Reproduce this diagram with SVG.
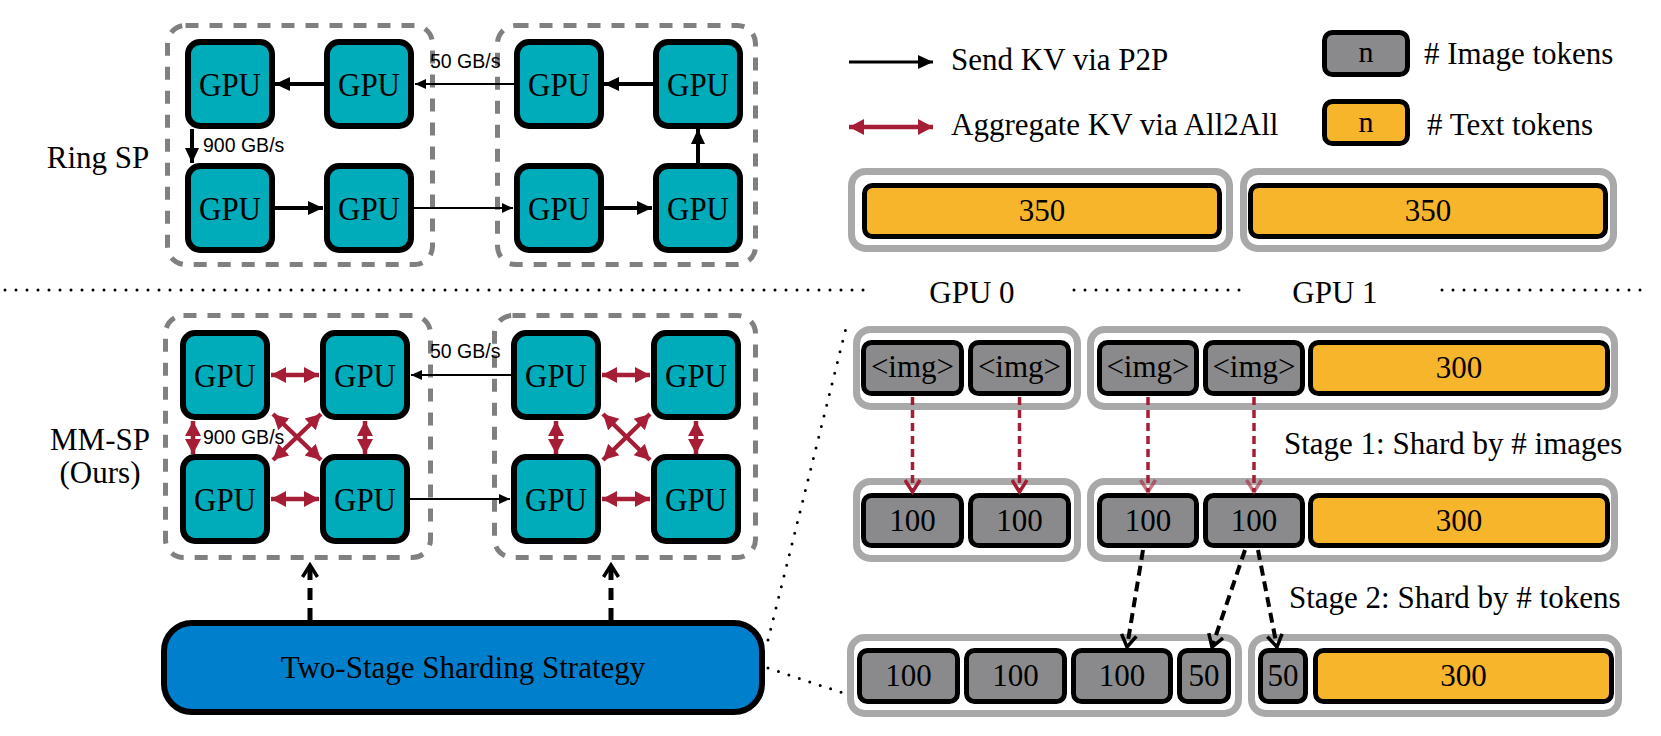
<svg xmlns="http://www.w3.org/2000/svg" width="1661" height="736" viewBox="0 0 1661 736">
<style>
.t{font-family:"Liberation Serif","Times New Roman",serif;font-size:31px;fill:#000}
.tm{text-anchor:middle}
.g{font-family:"Liberation Serif","Times New Roman",serif;font-size:34px;fill:#000;text-anchor:middle}
.s{font-family:"Liberation Sans",Arial,sans-serif;font-size:19.5px;fill:#000}
.gpu{fill:#00ACBA;stroke:#000;stroke-width:6}
.clu{fill:none;stroke:#808080;stroke-width:5;stroke-dasharray:13 11}
.con{fill:#fff;stroke:#A9A9A9;stroke-width:7}
.img{fill:#8A8A8C;stroke:#000;stroke-width:5}
.txt{fill:#F7B52C;stroke:#000;stroke-width:5}
.bk{stroke:#000;stroke-width:4;fill:none}
.bt{stroke:#000;stroke-width:2;fill:none}
.rd{stroke:#A51E36;stroke-width:4.5;fill:none}
.rdd{stroke:#A51E36;stroke-width:3.5;fill:none;stroke-dasharray:8 5}
.bdd{stroke:#000;stroke-width:4;fill:none;stroke-dasharray:10 6}
.bup{stroke:#000;stroke-width:5;fill:none;stroke-dasharray:12 8}
.dot{stroke:#000;stroke-width:3;fill:none;stroke-dasharray:0 11;stroke-linecap:round}
</style>
<defs>
<marker id="hb" markerUnits="userSpaceOnUse" markerWidth="16" markerHeight="16" viewBox="0 0 16 16" refX="15" refY="8" orient="auto"><path d="M0,1 L15,8 L0,15 z" fill="#000"/></marker>
<marker id="ht" markerUnits="userSpaceOnUse" markerWidth="12" markerHeight="12" viewBox="0 0 12 12" refX="11" refY="6" orient="auto"><path d="M0,1 L11,6 L0,11 z" fill="#000"/></marker>
<marker id="hr" markerUnits="userSpaceOnUse" markerWidth="16" markerHeight="18" viewBox="0 0 16 18" refX="15" refY="9" orient="auto-start-reverse"><path d="M0,1 L15,9 L0,17 z" fill="#A51E36"/></marker>
<marker id="vr" markerUnits="userSpaceOnUse" markerWidth="16" markerHeight="18" viewBox="0 0 16 18" refX="13" refY="9" orient="auto"><path d="M1,1.5 L13,9 L1,16.5" fill="none" stroke="#A51E36" stroke-width="3.5"/></marker>
<marker id="vr2" markerUnits="userSpaceOnUse" markerWidth="16" markerHeight="18" viewBox="0 0 16 18" refX="13" refY="9" orient="auto"><path d="M1,1.5 L13,9 L1,16.5" fill="none" stroke="#A51E36" stroke-opacity="0.6" stroke-width="3.5"/></marker>
<marker id="vb" markerUnits="userSpaceOnUse" markerWidth="16" markerHeight="18" viewBox="0 0 16 18" refX="13" refY="9" orient="auto"><path d="M1,1.5 L13,9 L1,16.5" fill="none" stroke="#000" stroke-width="3.5"/></marker>
</defs>

<!-- Left labels -->
<text class="t tm" x="98" y="168">Ring SP</text>
<text class="t tm" x="100" y="450">MM-SP</text>
<text class="t tm" x="100" y="483">(Ours)</text>

<!-- Cluster containers -->
<g id="clusters">
<rect class="clu" x="167.5" y="25.5" width="265" height="239" rx="18"/>
<rect class="clu" x="497.5" y="25.5" width="258" height="239" rx="18"/>
<rect class="clu" x="165.5" y="315.5" width="265" height="242" rx="18"/>
<rect class="clu" x="494.5" y="315.5" width="261" height="242" rx="18"/>
</g>

<!-- Ring SP GPUs -->
<g id="ringA1"><rect class="gpu" x="188" y="42" width="84" height="84" rx="12"/><text class="g" x="230" y="96" textLength="62" lengthAdjust="spacingAndGlyphs">GPU</text></g>
<g id="ringA2"><rect class="gpu" x="327" y="42" width="84" height="84" rx="12"/><text class="g" x="369" y="96" textLength="62" lengthAdjust="spacingAndGlyphs">GPU</text></g>
<g id="ringA3"><rect class="gpu" x="188" y="166" width="84" height="84" rx="12"/><text class="g" x="230" y="220" textLength="62" lengthAdjust="spacingAndGlyphs">GPU</text></g>
<g id="ringA4"><rect class="gpu" x="327" y="166" width="84" height="84" rx="12"/><text class="g" x="369" y="220" textLength="62" lengthAdjust="spacingAndGlyphs">GPU</text></g>
<g id="ringB1"><rect class="gpu" x="517" y="42" width="84" height="84" rx="12"/><text class="g" x="559" y="96" textLength="62" lengthAdjust="spacingAndGlyphs">GPU</text></g>
<g id="ringB2"><rect class="gpu" x="656" y="42" width="84" height="84" rx="12"/><text class="g" x="698" y="96" textLength="62" lengthAdjust="spacingAndGlyphs">GPU</text></g>
<g id="ringB3"><rect class="gpu" x="517" y="166" width="84" height="84" rx="12"/><text class="g" x="559" y="220" textLength="62" lengthAdjust="spacingAndGlyphs">GPU</text></g>
<g id="ringB4"><rect class="gpu" x="656" y="166" width="84" height="84" rx="12"/><text class="g" x="698" y="220" textLength="62" lengthAdjust="spacingAndGlyphs">GPU</text></g>

<!-- MM-SP GPUs -->
<g id="mmC1"><rect class="gpu" x="183" y="333" width="84" height="84" rx="12"/><text class="g" x="225" y="387" textLength="62" lengthAdjust="spacingAndGlyphs">GPU</text></g>
<g id="mmC2"><rect class="gpu" x="323" y="333" width="84" height="84" rx="12"/><text class="g" x="365" y="387" textLength="62" lengthAdjust="spacingAndGlyphs">GPU</text></g>
<g id="mmC3"><rect class="gpu" x="183" y="457" width="84" height="84" rx="12"/><text class="g" x="225" y="511" textLength="62" lengthAdjust="spacingAndGlyphs">GPU</text></g>
<g id="mmC4"><rect class="gpu" x="323" y="457" width="84" height="84" rx="12"/><text class="g" x="365" y="511" textLength="62" lengthAdjust="spacingAndGlyphs">GPU</text></g>
<g id="mmD1"><rect class="gpu" x="514" y="333" width="84" height="84" rx="12"/><text class="g" x="556" y="387" textLength="62" lengthAdjust="spacingAndGlyphs">GPU</text></g>
<g id="mmD2"><rect class="gpu" x="654" y="333" width="84" height="84" rx="12"/><text class="g" x="696" y="387" textLength="62" lengthAdjust="spacingAndGlyphs">GPU</text></g>
<g id="mmD3"><rect class="gpu" x="514" y="457" width="84" height="84" rx="12"/><text class="g" x="556" y="511" textLength="62" lengthAdjust="spacingAndGlyphs">GPU</text></g>
<g id="mmD4"><rect class="gpu" x="654" y="457" width="84" height="84" rx="12"/><text class="g" x="696" y="511" textLength="62" lengthAdjust="spacingAndGlyphs">GPU</text></g>

<!-- Strategy box -->
<g id="strategy"><rect x="164" y="623" width="598" height="89" rx="28" fill="#0080CC" stroke="#000" stroke-width="6"/><text class="t tm" x="463" y="678">Two-Stage Sharding Strategy</text></g>

<!-- Legend -->
<g id="legend">
<line class="bt" x1="849" y1="62" x2="933" y2="62" style="stroke-width:3" marker-end="url(#hb)"/>
<text class="t" x="951" y="70">Send KV via P2P</text>
<line class="rd" x1="849" y1="127" x2="933" y2="127" marker-start="url(#hr)" marker-end="url(#hr)"/>
<text class="t" x="951" y="135">Aggregate KV via All2All</text>
<rect class="img" x="1324.5" y="32.5" width="83" height="42" rx="8"/>
<text class="t tm" x="1366" y="62" style="font-size:30px">n</text>
<text class="t" x="1424" y="64">#  Image tokens</text>
<rect class="txt" x="1324.5" y="101.5" width="83" height="42" rx="8"/>
<text class="t tm" x="1366" y="132" style="font-size:30px">n</text>
<text class="t" x="1427" y="135">#  Text tokens</text>
</g>

<!-- Ring SP token row -->
<g id="ring-gpu0"><rect class="con" x="851.5" y="171.5" width="378" height="77" rx="14"/><rect class="txt" x="864.5" y="185.5" width="355" height="51" rx="8"/><text class="t tm" x="1042" y="221">350</text></g>
<g id="ring-gpu1"><rect class="con" x="1243.5" y="171.5" width="370" height="77" rx="14"/><rect class="txt" x="1250.5" y="185.5" width="355" height="51" rx="8"/><text class="t tm" x="1428" y="221">350</text></g>

<!-- Separator -->
<g id="separator">
<line class="dot" x1="5" y1="290" x2="869" y2="290"/>
<line class="dot" x1="1074" y1="290" x2="1240" y2="290"/>
<line class="dot" x1="1442" y1="290" x2="1645" y2="290"/>
<text class="t tm" x="972" y="303">GPU 0</text>
<text class="t tm" x="1335" y="303">GPU 1</text>
</g>

<!-- Row 1 -->
<g id="r1-gpu0"><rect class="con" x="856.5" y="329.5" width="221" height="77" rx="14"/>
<rect class="img" x="863.5" y="342.5" width="98" height="51" rx="8"/><text class="t tm" x="912.5" y="377">&lt;img&gt;</text>
<rect class="img" x="970.5" y="342.5" width="98" height="51" rx="8"/><text class="t tm" x="1019.5" y="377">&lt;img&gt;</text></g>
<g id="r1-gpu1"><rect class="con" x="1090.5" y="329.5" width="524" height="77" rx="14"/>
<rect class="img" x="1099.5" y="342.5" width="97" height="51" rx="8"/><text class="t tm" x="1148" y="377">&lt;img&gt;</text>
<rect class="img" x="1205.5" y="342.5" width="97" height="51" rx="8"/><text class="t tm" x="1254" y="377">&lt;img&gt;</text>
<rect class="txt" x="1310.5" y="342.5" width="297" height="51" rx="8"/><text class="t tm" x="1459" y="378">300</text></g>

<text class="t" x="1284" y="454">Stage 1: Shard by # images</text>

<!-- Row 2 -->
<g id="r2-gpu0"><rect class="con" x="856.5" y="481.5" width="221" height="77" rx="14"/>
<rect class="img" x="863.5" y="495.5" width="98" height="50" rx="8"/><text class="t tm" x="912.5" y="531">100</text>
<rect class="img" x="970.5" y="495.5" width="98" height="50" rx="8"/><text class="t tm" x="1019.5" y="531">100</text></g>
<g id="r2-gpu1"><rect class="con" x="1090.5" y="481.5" width="524" height="77" rx="14"/>
<rect class="img" x="1099.5" y="495.5" width="97" height="50" rx="8"/><text class="t tm" x="1148" y="531">100</text>
<rect class="img" x="1205.5" y="495.5" width="97" height="50" rx="8"/><text class="t tm" x="1254" y="531">100</text>
<rect class="txt" x="1310.5" y="495.5" width="297" height="50" rx="8"/><text class="t tm" x="1459" y="531">300</text></g>

<text class="t" x="1289" y="608">Stage 2: Shard by # tokens</text>

<!-- Row 3 -->
<g id="r3-gpu0"><rect class="con" x="850.5" y="637.5" width="388" height="76" rx="14"/>
<rect class="img" x="859.5" y="650.5" width="98" height="51" rx="8"/><text class="t tm" x="908.5" y="686">100</text>
<rect class="img" x="966.5" y="650.5" width="98" height="51" rx="8"/><text class="t tm" x="1015.5" y="686">100</text>
<rect class="img" x="1073.5" y="650.5" width="97" height="51" rx="8"/><text class="t tm" x="1122" y="686">100</text>
<rect class="img" x="1179.5" y="650.5" width="49" height="51" rx="8"/><text class="t tm" x="1204" y="686">50</text></g>
<g id="r3-gpu1"><rect class="con" x="1251.5" y="637.5" width="367" height="76" rx="14"/>
<rect class="img" x="1260.5" y="650.5" width="45" height="51" rx="8"/><text class="t tm" x="1283" y="686">50</text>
<rect class="txt" x="1315.5" y="650.5" width="296" height="51" rx="8"/><text class="t tm" x="1463.5" y="686">300</text></g>

<!-- Connectors -->
<g id="connectors">
<!-- Ring SP -->
<line class="bk" x1="324" y1="84" x2="275" y2="84" marker-end="url(#hb)"/>
<line class="bk" x1="192" y1="129" x2="192" y2="163" marker-end="url(#hb)"/>
<line class="bk" x1="275" y1="208" x2="323" y2="208" marker-end="url(#hb)"/>
<line class="bt" x1="414" y1="208" x2="513" y2="208" marker-end="url(#ht)"/>
<line class="bk" x1="604" y1="208" x2="652" y2="208" marker-end="url(#hb)"/>
<line class="bk" x1="698" y1="163" x2="698" y2="129" marker-end="url(#hb)"/>
<line class="bk" x1="653" y1="84" x2="604" y2="84" marker-end="url(#hb)"/>
<line class="bt" x1="514" y1="84" x2="415" y2="84" marker-end="url(#ht)"/>
<text class="s" x="203" y="152">900 GB/s</text>
<text class="s" x="430" y="68">50 GB/s</text>
<!-- MM-SP -->
<line class="rd" x1="271" y1="375" x2="319" y2="375" marker-start="url(#hr)" marker-end="url(#hr)"/>
<line class="rd" x1="193" y1="421" x2="193" y2="454" marker-start="url(#hr)" marker-end="url(#hr)"/>
<line class="rd" x1="365" y1="421" x2="365" y2="454" marker-start="url(#hr)" marker-end="url(#hr)"/>
<line class="rd" x1="271" y1="499" x2="319" y2="499" marker-start="url(#hr)" marker-end="url(#hr)"/>
<line class="rd" x1="273" y1="414" x2="321" y2="460" marker-start="url(#hr)" marker-end="url(#hr)"/>
<line class="rd" x1="321" y1="414" x2="273" y2="460" marker-start="url(#hr)" marker-end="url(#hr)"/>
<line class="rd" x1="602" y1="375" x2="650" y2="375" marker-start="url(#hr)" marker-end="url(#hr)"/>
<line class="rd" x1="556" y1="421" x2="556" y2="454" marker-start="url(#hr)" marker-end="url(#hr)"/>
<line class="rd" x1="696" y1="421" x2="696" y2="454" marker-start="url(#hr)" marker-end="url(#hr)"/>
<line class="rd" x1="602" y1="499" x2="650" y2="499" marker-start="url(#hr)" marker-end="url(#hr)"/>
<line class="rd" x1="603" y1="414" x2="650" y2="460" marker-start="url(#hr)" marker-end="url(#hr)"/>
<line class="rd" x1="650" y1="414" x2="603" y2="460" marker-start="url(#hr)" marker-end="url(#hr)"/>
<line class="bt" x1="511" y1="375" x2="411" y2="375" marker-end="url(#ht)"/>
<line class="bt" x1="410" y1="499" x2="510" y2="499" marker-end="url(#ht)"/>
<text class="s" x="203" y="444">900 GB/s</text>
<text class="s" x="430" y="358">50 GB/s</text>
<!-- Strategy up arrows -->
<line class="bup" x1="310" y1="620" x2="310" y2="565" marker-end="url(#vb)"/>
<line class="bup" x1="611" y1="620" x2="611" y2="565" marker-end="url(#vb)"/>
<!-- Zoom dotted lines -->
<line class="dot" x1="768" y1="640" x2="846" y2="328"/>
<line class="dot" x1="768" y1="668" x2="846" y2="694"/>
<!-- Stage 1 -->
<line class="rdd" x1="912.5" y1="397" x2="912.5" y2="492" marker-end="url(#vr)"/>
<line class="rdd" x1="1019.5" y1="397" x2="1019.5" y2="492" marker-end="url(#vr)"/>
<line class="rdd" x1="1148" y1="397" x2="1148" y2="492" marker-end="url(#vr2)"/>
<line class="rdd" x1="1254" y1="397" x2="1254" y2="492" marker-end="url(#vr2)"/>
<!-- Stage 2 -->
<line class="bdd" x1="1143" y1="550" x2="1127" y2="647" marker-end="url(#vb)"/>
<line class="bdd" x1="1245" y1="550" x2="1212" y2="647" marker-end="url(#vb)"/>
<line class="bdd" x1="1258" y1="550" x2="1277" y2="647" marker-end="url(#vb)"/>
</g>
</svg>
